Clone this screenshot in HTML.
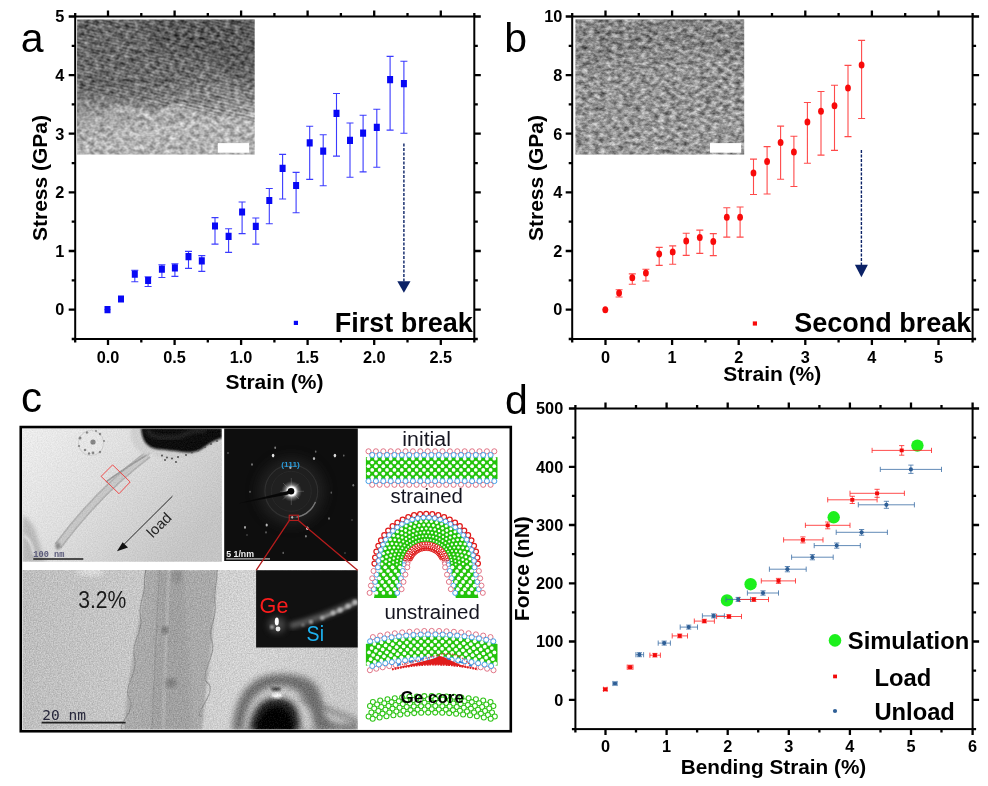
<!DOCTYPE html>
<html lang="en"><head><meta charset="utf-8"><title>Figure</title>
<style>html,body{margin:0;padding:0;background:#fff}svg{display:block}</style></head><body>
<svg width="988" height="786" viewBox="0 0 988 786">
<rect width="988" height="786" fill="#fff"/>
<defs>

<filter id="nzA" x="0" y="0" width="100%" height="100%" color-interpolation-filters="sRGB">
<feTurbulence type="fractalNoise" baseFrequency="0.2 0.24" numOctaves="2" seed="7" result="t"/>
<feColorMatrix in="t" type="matrix" values="1 0 0 0 0 1 0 0 0 0 1 0 0 0 0 0 0 0 0 1" result="g"/>
<feComposite in="SourceGraphic" in2="g" operator="arithmetic" k1="0" k2="1" k3="0.62" k4="-0.31"/>
</filter>
<filter id="nzB" x="0" y="0" width="100%" height="100%" color-interpolation-filters="sRGB">
<feTurbulence type="fractalNoise" baseFrequency="0.17 0.26" numOctaves="3" seed="21" result="t"/>
<feColorMatrix in="t" type="matrix" values="1 0 0 0 0 1 0 0 0 0 1 0 0 0 0 0 0 0 0 1" result="g"/>
<feComposite in="SourceGraphic" in2="g" operator="arithmetic" k1="0" k2="1" k3="0.8" k4="-0.4"/>
</filter>
<filter id="nzC" x="0" y="0" width="100%" height="100%" color-interpolation-filters="sRGB">
<feTurbulence type="fractalNoise" baseFrequency="0.75" numOctaves="2" seed="4" result="t"/>
<feColorMatrix in="t" type="matrix" values="1 0 0 0 0 1 0 0 0 0 1 0 0 0 0 0 0 0 0 1" result="g"/>
<feComposite in="SourceGraphic" in2="g" operator="arithmetic" k1="0" k2="1" k3="0.26" k4="-0.13"/>
</filter>
<filter id="nzD" x="0" y="0" width="100%" height="100%" color-interpolation-filters="sRGB">
<feTurbulence type="fractalNoise" baseFrequency="0.8" numOctaves="2" seed="9" result="t"/>
<feColorMatrix in="t" type="matrix" values="1 0 0 0 0 1 0 0 0 0 1 0 0 0 0 0 0 0 0 1" result="g"/>
<feComposite in="SourceGraphic" in2="g" operator="arithmetic" k1="0" k2="1" k3="0.12" k4="-0.06"/>
</filter>
<filter id="b1" x="-20%" y="-20%" width="140%" height="140%"><feGaussianBlur stdDeviation="1"/></filter>
<filter id="b2" x="-20%" y="-20%" width="140%" height="140%"><feGaussianBlur stdDeviation="2"/></filter>
<filter id="b3" x="-30%" y="-30%" width="160%" height="160%"><feGaussianBlur stdDeviation="3.2"/></filter>
<filter id="b6" x="-30%" y="-30%" width="160%" height="160%"><feGaussianBlur stdDeviation="6"/></filter>
<filter id="b05" x="-20%" y="-20%" width="140%" height="140%"><feGaussianBlur stdDeviation="0.6"/></filter>
<clipPath id="cA"><rect x="77.1" y="19.6" width="177.6" height="135"/></clipPath>
<clipPath id="cB"><rect x="575.4" y="19.6" width="168.8" height="135"/></clipPath>
<clipPath id="cC1"><rect x="22.6" y="428.4" width="199.3" height="133.3"/></clipPath>
<clipPath id="cC2"><rect x="224.2" y="428.4" width="133.6" height="132.6"/></clipPath>
<clipPath id="cC3"><rect x="22.6" y="570" width="335.2" height="159.4"/></clipPath>
<clipPath id="cC4"><rect x="256.1" y="570.2" width="101.6" height="77.3"/></clipPath>
<linearGradient id="gA" x1="0" y1="0" x2="0.25" y2="1">
<stop offset="0" stop-color="#6e6e6e"/><stop offset="0.52" stop-color="#747474"/><stop offset="0.76" stop-color="#969696"/><stop offset="0.9" stop-color="#b2b2b2"/><stop offset="1" stop-color="#b0b0b0"/></linearGradient>
<linearGradient id="gC1" x1="0" y1="0" x2="1" y2="0.6">
<stop offset="0" stop-color="#ededed"/><stop offset="0.45" stop-color="#dedede"/><stop offset="1" stop-color="#c4c4c4"/></linearGradient>
<linearGradient id="gC3" x1="0" y1="0" x2="1" y2="0">
<stop offset="0" stop-color="#bebebe"/><stop offset="0.3" stop-color="#c6c6c6"/><stop offset="0.68" stop-color="#d2d2d2"/><stop offset="1" stop-color="#c8c8c8"/></linearGradient>
<radialGradient id="gGlow"><stop offset="0" stop-color="#fff" stop-opacity="1"/><stop offset="0.42" stop-color="#fff" stop-opacity="1"/><stop offset="0.62" stop-color="#ccc" stop-opacity=".5"/><stop offset="1" stop-color="#888" stop-opacity="0"/></radialGradient>
<pattern id="fr" width="3.1" height="3.1" patternUnits="userSpaceOnUse" patternTransform="rotate(14)"><rect width="3.1" height="1.4" fill="#000" opacity=".16"/></pattern>
<pattern id="fr2" width="3.4" height="3.4" patternUnits="userSpaceOnUse" patternTransform="rotate(-70)"><rect width="3.4" height="1.5" fill="#fff" opacity=".05"/></pattern>

</defs>
<g id="panelA">
<g clip-path="url(#cA)"><g filter="url(#nzA)">
<rect x="77" y="19.5" width="178" height="135.4" fill="url(#gA)"/>
<path d="M150 19H255V100Q235 70 215 60T150 50z" fill="#565656" opacity=".55" filter="url(#b6)"/>
<path d="M77 106Q120 112 150 121T255 138V155H77z" fill="#b4b4b4" opacity=".6" filter="url(#b6)"/>
<path d="M110 112q15 -6 30 2t30 -4t25 6" stroke="#e2e2e2" stroke-width="5" fill="none" opacity=".55" filter="url(#b2)"/>
<path d="M118 128q20 10 45 2t50 -6" stroke="#d8d8d8" stroke-width="4" fill="none" opacity=".5" filter="url(#b2)"/>
<path d="M120 138h45" stroke="#909090" stroke-width="4" opacity=".5" filter="url(#b2)"/>
<path d="M77 19.5H255V122L77 90z" fill="url(#fr)"/>
</g></g>
<rect x="217.8" y="143.1" width="31.3" height="9.6" fill="#fff"/>
<rect x="75.2" y="16.5" width="399.1" height="322.5" fill="none" stroke="#000" stroke-width="2"/>
<path d="M108 16.5v-6M108 339v6M174.6 16.5v-6M174.6 339v6M241.1 16.5v-6M241.1 339v6M307.6 16.5v-6M307.6 339v6M374.2 16.5v-6M374.2 339v6M440.8 16.5v-6M440.8 339v6M75.2 16.5v-3.5M75.2 339v3.5M141.3 16.5v-3.5M141.3 339v3.5M207.8 16.5v-3.5M207.8 339v3.5M274.4 16.5v-3.5M274.4 339v3.5M340.9 16.5v-3.5M340.9 339v3.5M407.5 16.5v-3.5M407.5 339v3.5M474.3 16.5v-3.5M474.3 339v3.5M75.2 309.6h-6.5M474.3 309.6h6.5M75.2 251h-6.5M474.3 251h6.5M75.2 192.4h-6.5M474.3 192.4h6.5M75.2 133.7h-6.5M474.3 133.7h6.5M75.2 75.1h-6.5M474.3 75.1h6.5M75.2 16.5h-6.5M474.3 16.5h6.5M75.2 339h-3.5M474.3 339h3.5M75.2 280.3h-3.5M474.3 280.3h3.5M75.2 221.7h-3.5M474.3 221.7h3.5M75.2 163.1h-3.5M474.3 163.1h3.5M75.2 104.4h-3.5M474.3 104.4h3.5M75.2 45.8h-3.5M474.3 45.8h3.5" stroke="#000" stroke-width="2.3" fill="none"/>
<g font-family='"Liberation Sans", Arial, sans-serif' font-weight="bold" font-size="16.3px" fill="#000">
<text x="108" y="362.5" text-anchor="middle">0.0</text>
<text x="174.6" y="362.5" text-anchor="middle">0.5</text>
<text x="241.1" y="362.5" text-anchor="middle">1.0</text>
<text x="307.6" y="362.5" text-anchor="middle">1.5</text>
<text x="374.2" y="362.5" text-anchor="middle">2.0</text>
<text x="440.8" y="362.5" text-anchor="middle">2.5</text>
<text x="64.4" y="315.4" text-anchor="end">0</text>
<text x="64.4" y="256.8" text-anchor="end">1</text>
<text x="64.4" y="198.2" text-anchor="end">2</text>
<text x="64.4" y="139.5" text-anchor="end">3</text>
<text x="64.4" y="80.9" text-anchor="end">4</text>
<text x="64.4" y="22.3" text-anchor="end">5</text>
</g>
<text x="274.4" y="388.7" text-anchor="middle" font-family='"Liberation Sans", Arial, sans-serif' font-weight="bold" font-size="21px">Strain (%)</text>
<text transform="translate(46.8 178) rotate(-90)" text-anchor="middle" font-family='"Liberation Sans", Arial, sans-serif' font-weight="bold" font-size="21px">Stress (GPa)</text>
<path d="M134.8 270.2V281.7M131.3 270.2h7M131.3 281.7h7M148.1 276.7V286.5M144.6 276.7h7M144.6 286.5h7M161.9 264.7V277.5M158.4 264.7h7M158.4 277.5h7M174.9 263.7V276.4M171.4 263.7h7M171.4 276.4h7M188.5 251.4V268.4M185 251.4h7M185 268.4h7M201.8 255.6V271.4M198.3 255.6h7M198.3 271.4h7M215 217.6V244.1M211.5 217.6h7M211.5 244.1h7M228.6 228.8V252.4M225.1 228.8h7M225.1 252.4h7M242.1 202V233.6M238.6 202h7M238.6 233.6h7M255.8 218V244.1M252.3 218h7M252.3 244.1h7M269.3 188.5V223.8M265.8 188.5h7M265.8 223.8h7M282.6 154.4V199M279.1 154.4h7M279.1 199h7M296.1 172.4V212.8M292.6 172.4h7M292.6 212.8h7M309.7 126.3V179.4M306.2 126.3h7M306.2 179.4h7M323.2 134.8V185.7M319.7 134.8h7M319.7 185.7h7M336.5 93.5V156.1M333 93.5h7M333 156.1h7M350 123V177.2M346.5 123h7M346.5 177.2h7M363.1 115.3V171.9M359.6 115.3h7M359.6 171.9h7M376.8 109.3V167.2M373.3 109.3h7M373.3 167.2h7M390.1 56.4V130.1M386.6 56.4h7M386.6 130.1h7M403.9 61.2V133.3M400.4 61.2h7M400.4 133.3h7" stroke="#2020ff" stroke-width="1.1" fill="none" opacity="0.88"/>
<path d="M104.5 309.6h6M107.5 306.6v6M118 299h6M121 296v6" stroke="#2222ff" stroke-width="1" opacity=".8"/>
<path d="M104.5 306h6v7.2h-6zM118 295.4h6v7.2h-6zM131.8 270.6h6v7.2h-6zM145.1 276.9h6v7.2h-6zM158.9 265.6h6v7.2h-6zM171.9 264.3h6v7.2h-6zM185.5 253h6v7.2h-6zM198.8 257.3h6v7.2h-6zM212 222.4h6v7.2h-6zM225.6 232.7h6v7.2h-6zM239.1 208.4h6v7.2h-6zM252.8 222.7h6v7.2h-6zM266.3 196.9h6v7.2h-6zM279.6 164.8h6v7.2h-6zM293.1 181.9h6v7.2h-6zM306.7 139.3h6v7.2h-6zM320.2 147.5h6v7.2h-6zM333.5 109.7h6v7.2h-6zM347 136.8h6v7.2h-6zM360.1 129.5h6v7.2h-6zM373.8 123.7h6v7.2h-6zM387.1 76.1h6v7.2h-6zM400.9 80.1h6v7.2h-6z" fill="#0808f5"/>
<path d="M403.9 143.4V283" stroke="#0b2266" stroke-width="1.4" stroke-dasharray="3 1.5" fill="none"/>
<path d="M397.3 281.2h13.2l-6.6 11.6z" fill="#0b2266"/>
<rect x="293.8" y="320.8" width="4.2" height="4.2" fill="#0808f5"/>
<text x="334.8" y="332.4" font-family='"Liberation Sans", Arial, sans-serif' font-weight="bold" font-size="27px">First break</text>
<text x="20.8" y="52" font-family='"Liberation Sans", Arial, sans-serif' font-size="41px">a</text>
</g>
<g id="panelB">
<g clip-path="url(#cB)"><g filter="url(#nzB)">
<rect x="575" y="19.5" width="170" height="135.4" fill="#919191"/>
<path d="M575 19H745V60Q660 40 575 75z" fill="#757575" opacity=".5" filter="url(#b6)"/>
<path d="M575 120Q660 100 745 110V155H575z" fill="#9a9a9a" opacity=".5" filter="url(#b6)"/>
<rect x="575" y="19.5" width="170" height="135.4" fill="url(#fr2)"/>
</g></g>
<rect x="710" y="143.1" width="31.2" height="9.6" fill="#fff"/>
<rect x="572.2" y="16.5" width="400.4" height="322.5" fill="none" stroke="#000" stroke-width="2"/>
<path d="M605.5 16.5v-6M605.5 339v6M672.1 16.5v-6M672.1 339v6M738.7 16.5v-6M738.7 339v6M805.3 16.5v-6M805.3 339v6M871.9 16.5v-6M871.9 339v6M938.5 16.5v-6M938.5 339v6M572.2 16.5v-3.5M572.2 339v3.5M638.8 16.5v-3.5M638.8 339v3.5M705.4 16.5v-3.5M705.4 339v3.5M772 16.5v-3.5M772 339v3.5M838.6 16.5v-3.5M838.6 339v3.5M905.2 16.5v-3.5M905.2 339v3.5M972.6 16.5v-3.5M972.6 339v3.5M572.2 309.6h-6.5M972.6 309.6h6.5M572.2 251h-6.5M972.6 251h6.5M572.2 192.4h-6.5M972.6 192.4h6.5M572.2 133.7h-6.5M972.6 133.7h6.5M572.2 75.1h-6.5M972.6 75.1h6.5M572.2 16.5h-6.5M972.6 16.5h6.5M572.2 339h-3.5M972.6 339h3.5M572.2 280.3h-3.5M972.6 280.3h3.5M572.2 221.7h-3.5M972.6 221.7h3.5M572.2 163.1h-3.5M972.6 163.1h3.5M572.2 104.4h-3.5M972.6 104.4h3.5M572.2 45.8h-3.5M972.6 45.8h3.5" stroke="#000" stroke-width="2.3" fill="none"/>
<g font-family='"Liberation Sans", Arial, sans-serif' font-weight="bold" font-size="16.3px" fill="#000">
<text x="605.5" y="362.5" text-anchor="middle">0</text>
<text x="672.1" y="362.5" text-anchor="middle">1</text>
<text x="738.7" y="362.5" text-anchor="middle">2</text>
<text x="805.3" y="362.5" text-anchor="middle">3</text>
<text x="871.9" y="362.5" text-anchor="middle">4</text>
<text x="938.5" y="362.5" text-anchor="middle">5</text>
<text x="562.4" y="315.4" text-anchor="end">0</text>
<text x="562.4" y="256.8" text-anchor="end">2</text>
<text x="562.4" y="198.2" text-anchor="end">4</text>
<text x="562.4" y="139.5" text-anchor="end">6</text>
<text x="562.4" y="80.9" text-anchor="end">8</text>
<text x="562.4" y="22.3" text-anchor="end">10</text>
</g>
<text x="772.3" y="381.2" text-anchor="middle" font-family='"Liberation Sans", Arial, sans-serif' font-weight="bold" font-size="21px">Strain (%)</text>
<text transform="translate(543 178) rotate(-90)" text-anchor="middle" font-family='"Liberation Sans", Arial, sans-serif' font-weight="bold" font-size="21px">Stress (GPa)</text>
<path d="M619.1 289.7V297M615.6 289.7h7M615.6 297h7M632.3 273.9V284.2M628.8 273.9h7M628.8 284.2h7M645.9 269.2V281M642.4 269.2h7M642.4 281h7M659.2 247.4V265.4M655.7 247.4h7M655.7 265.4h7M672.7 245.9V264.2M669.2 245.9h7M669.2 264.2h7M686.2 233.3V255.4M682.7 233.3h7M682.7 255.4h7M699.8 230.1V253.4M696.3 230.1h7M696.3 253.4h7M713.3 233.6V255.6M709.8 233.6h7M709.8 255.6h7M726.8 207.8V237.1M723.3 207.8h7M723.3 237.1h7M740.1 207V237.1M736.6 207h7M736.6 237.1h7M753.5 159.1V194.5M750 159.1h7M750 194.5h7M767.1 146.6V194M763.6 146.6h7M763.6 194h7M780.6 126.1V179.2M777.1 126.1h7M777.1 179.2h7M793.9 136.3V186.5M790.4 136.3h7M790.4 186.5h7M807.4 102.5V163.2M803.9 102.5h7M803.9 163.2h7M821 91.5V155.1M817.5 91.5h7M817.5 155.1h7M834.5 85.2V150.4M831 85.2h7M831 150.4h7M848 65.4V136.6M844.5 65.4h7M844.5 136.6h7M861.6 40.4V118.5M858.1 40.4h7M858.1 118.5h7" stroke="#ff2222" stroke-width="1.1" fill="none" opacity="0.82"/>
<path d="M602.3 309.8h6M605.3 307v5.6" stroke="#ff2a2a" stroke-width="1" opacity=".8"/>
<ellipse cx="605.3" cy="309.8" rx="2.9" ry="3.5" fill="#f80a0a"/>
<ellipse cx="619.1" cy="293" rx="2.9" ry="3.5" fill="#f80a0a"/>
<ellipse cx="632.3" cy="277.7" rx="2.9" ry="3.5" fill="#f80a0a"/>
<ellipse cx="645.9" cy="272.9" rx="2.9" ry="3.5" fill="#f80a0a"/>
<ellipse cx="659.2" cy="253.9" rx="2.9" ry="3.5" fill="#f80a0a"/>
<ellipse cx="672.7" cy="251.9" rx="2.9" ry="3.5" fill="#f80a0a"/>
<ellipse cx="686.2" cy="241.1" rx="2.9" ry="3.5" fill="#f80a0a"/>
<ellipse cx="699.8" cy="237.6" rx="2.9" ry="3.5" fill="#f80a0a"/>
<ellipse cx="713.3" cy="241.4" rx="2.9" ry="3.5" fill="#f80a0a"/>
<ellipse cx="726.8" cy="217.3" rx="2.9" ry="3.5" fill="#f80a0a"/>
<ellipse cx="740.1" cy="217.3" rx="2.9" ry="3.5" fill="#f80a0a"/>
<ellipse cx="753.5" cy="172.9" rx="2.9" ry="3.5" fill="#f80a0a"/>
<ellipse cx="767.1" cy="161.4" rx="2.9" ry="3.5" fill="#f80a0a"/>
<ellipse cx="780.6" cy="142.6" rx="2.9" ry="3.5" fill="#f80a0a"/>
<ellipse cx="793.9" cy="151.9" rx="2.9" ry="3.5" fill="#f80a0a"/>
<ellipse cx="807.4" cy="122.1" rx="2.9" ry="3.5" fill="#f80a0a"/>
<ellipse cx="821" cy="111.3" rx="2.9" ry="3.5" fill="#f80a0a"/>
<ellipse cx="834.5" cy="105.8" rx="2.9" ry="3.5" fill="#f80a0a"/>
<ellipse cx="848" cy="88" rx="2.9" ry="3.5" fill="#f80a0a"/>
<ellipse cx="861.6" cy="64.9" rx="2.9" ry="3.5" fill="#f80a0a"/>
<path d="M861.4 149.9V266" stroke="#0b2266" stroke-width="1.4" stroke-dasharray="3 1.5" fill="none"/>
<path d="M854.9 264.7h13l-6.5 12.5z" fill="#0b2266"/>
<rect x="752.8" y="321.4" width="4.2" height="4.2" fill="#f80a0a"/>
<text x="794.2" y="332.4" font-family='"Liberation Sans", Arial, sans-serif' font-weight="bold" font-size="27px">Second break</text>
<text x="504.3" y="52" font-family='"Liberation Sans", Arial, sans-serif' font-size="41px">b</text>
</g>
<g id="panelD">
<rect x="575.4" y="408.5" width="397.2" height="320.6" fill="none" stroke="#000" stroke-width="2"/>
<path d="M605.5 408.5v-6M605.5 729.1v6M666.6 408.5v-6M666.6 729.1v6M727.7 408.5v-6M727.7 729.1v6M788.8 408.5v-6M788.8 729.1v6M849.9 408.5v-6M849.9 729.1v6M911 408.5v-6M911 729.1v6M972.6 408.5v-6M972.6 729.1v6M575.4 408.5v-3.5M575.4 729.1v3.5M636 408.5v-3.5M636 729.1v3.5M697.1 408.5v-3.5M697.1 729.1v3.5M758.2 408.5v-3.5M758.2 729.1v3.5M819.4 408.5v-3.5M819.4 729.1v3.5M880.5 408.5v-3.5M880.5 729.1v3.5M941.5 408.5v-3.5M941.5 729.1v3.5M575.4 699.8h-6.5M972.6 699.8h6.5M575.4 641.5h-6.5M972.6 641.5h6.5M575.4 583.3h-6.5M972.6 583.3h6.5M575.4 525h-6.5M972.6 525h6.5M575.4 466.8h-6.5M972.6 466.8h6.5M575.4 408.5h-6.5M972.6 408.5h6.5M575.4 729.1h-3.5M972.6 729.1h3.5M575.4 670.7h-3.5M972.6 670.7h3.5M575.4 612.4h-3.5M972.6 612.4h3.5M575.4 554.1h-3.5M972.6 554.1h3.5M575.4 495.9h-3.5M972.6 495.9h3.5M575.4 437.6h-3.5M972.6 437.6h3.5" stroke="#000" stroke-width="2.3" fill="none"/>
<g font-family='"Liberation Sans", Arial, sans-serif' font-weight="bold" font-size="16.3px" fill="#000">
<text x="605.5" y="752.4" text-anchor="middle">0</text>
<text x="666.6" y="752.4" text-anchor="middle">1</text>
<text x="727.7" y="752.4" text-anchor="middle">2</text>
<text x="788.8" y="752.4" text-anchor="middle">3</text>
<text x="849.9" y="752.4" text-anchor="middle">4</text>
<text x="911" y="752.4" text-anchor="middle">5</text>
<text x="972.6" y="752.4" text-anchor="middle">6</text>
<text x="563.2" y="705.6" text-anchor="end">0</text>
<text x="563.2" y="647.3" text-anchor="end">100</text>
<text x="563.2" y="589.1" text-anchor="end">200</text>
<text x="563.2" y="530.8" text-anchor="end">300</text>
<text x="563.2" y="472.6" text-anchor="end">400</text>
<text x="563.2" y="414.3" text-anchor="end">500</text>
</g>
<text x="773.5" y="774" text-anchor="middle" font-family='"Liberation Sans", Arial, sans-serif' font-weight="bold" font-size="20.75px">Bending Strain (%)</text>
<text transform="translate(529.2 568.7) rotate(-90)" text-anchor="middle" font-family='"Liberation Sans", Arial, sans-serif' font-weight="bold" font-size="21px">Force (nN)</text>
<circle cx="727" cy="600.4" r="6.2" fill="#1cf01c"/>
<circle cx="750.6" cy="584.2" r="6.2" fill="#1cf01c"/>
<circle cx="833.7" cy="517.3" r="6.2" fill="#1cf01c"/>
<circle cx="917.4" cy="445.6" r="6.2" fill="#1cf01c"/>
<path d="M613 683.5H617M613 680.9v5.2M617 680.9v5.2M615 682V685M612.4 682h5.2M612.4 685h5.2M635.9 654.7H643.6M635.9 652.1v5.2M643.6 652.1v5.2M639.4 652.7V656.7M636.8 652.7h5.2M636.8 656.7h5.2M658.2 643.1H670.4M658.2 640.5v5.2M670.4 640.5v5.2M664.2 641.1V645.1M661.6 641.1h5.2M661.6 645.1h5.2M680.2 627.1H697.5M680.2 624.5v5.2M697.5 624.5v5.2M688.7 625.1V629.1M686.1 625.1h5.2M686.1 629.1h5.2M702.4 615.9H724.4M702.4 613.3v5.2M724.4 613.3v5.2M713.6 613.9V617.9M711 613.9h5.2M711 617.9h5.2M726 599.4H750.5M726 596.8v5.2M750.5 596.8v5.2M738.2 597.4V601.4M735.6 597.4h5.2M735.6 601.4h5.2M747.4 593H778.5M747.4 590.4v5.2M778.5 590.4v5.2M763 590.8V595.2M760.4 590.8h5.2M760.4 595.2h5.2M769.4 569.2H806.2M769.4 566.6v5.2M806.2 566.6v5.2M787.4 566.5V571.8M784.8 566.5h5.2M784.8 571.8h5.2M791.6 557.2H833.2M791.6 554.6v5.2M833.2 554.6v5.2M812.4 554.6V559.8M809.8 554.6h5.2M809.8 559.8h5.2M814.2 545.6H860.3M814.2 543v5.2M860.3 543v5.2M836.7 543V548.2M834.1 543h5.2M834.1 548.2h5.2M836.2 532.3H887.4M836.2 529.7v5.2M887.4 529.7v5.2M861.6 529.5V535.2M859 529.5h5.2M859 535.2h5.2M858.3 504.8H914.4M858.3 502.2v5.2M914.4 502.2v5.2M886.4 501.3V508.3M883.8 501.3h5.2M883.8 508.3h5.2M880.3 469.4H941.5M880.3 466.8v5.2M941.5 466.8v5.2M910.9 465.1V473.4M908.3 465.1h5.2M908.3 473.4h5.2" stroke="#3b6ea5" stroke-width="1" fill="none" opacity="0.8"/>
<path d="M603.5 689.3H607.1M603.5 686.7v5.2M607.1 686.7v5.2M605.3 688V690.6M602.7 688h5.2M602.7 690.6h5.2M627.2 667.2H633M627.2 664.6v5.2M633 664.6v5.2M630.1 665.2V669.2M627.5 665.2h5.2M627.5 669.2h5.2M649.9 655.2H660.4M649.9 652.6v5.2M660.4 652.6v5.2M654.9 653.4V657M652.3 653.4h5.2M652.3 657h5.2M672.2 635.9H687.5M672.2 633.3v5.2M687.5 633.3v5.2M679.7 634V637.8M677.1 634h5.2M677.1 637.8h5.2M694.3 621.1H714.4M694.3 618.5v5.2M714.4 618.5v5.2M704.3 619.3V622.9M701.7 619.3h5.2M701.7 622.9h5.2M716.6 616.5H741.5M716.6 613.9v5.2M741.5 613.9v5.2M728.9 614.8V618.2M726.3 614.8h5.2M726.3 618.2h5.2M739.5 599.5H768.5M739.5 596.9v5.2M768.5 596.9v5.2M753.8 597.7V601.3M751.2 597.7h5.2M751.2 601.3h5.2M761.3 580.9H795.5M761.3 578.3v5.2M795.5 578.3v5.2M778.5 578.4V583.4M775.9 578.4h5.2M775.9 583.4h5.2M783.6 539.9H823M783.6 537.3v5.2M823 537.3v5.2M802.9 536.9V542.9M800.3 536.9h5.2M800.3 542.9h5.2M805.4 525.3H850M805.4 522.7v5.2M850 522.7v5.2M827.7 522V528.8M825.1 522h5.2M825.1 528.8h5.2M827.7 499.8H877.1M827.7 497.2v5.2M877.1 497.2v5.2M852.3 496.3V503.5M849.7 496.3h5.2M849.7 503.5h5.2M850 493.3H904.4M850 490.7v5.2M904.4 490.7v5.2M877.1 489.3V497.3M874.5 489.3h5.2M874.5 497.3h5.2M872.1 450.4H931.5M872.1 447.8v5.2M931.5 447.8v5.2M901.7 445.6V455.2M899.1 445.6h5.2M899.1 455.2h5.2" stroke="#ff2020" stroke-width="1" fill="none" opacity="0.8"/>
<circle cx="615" cy="683.5" r="2.1" fill="#2f5f96"/>
<circle cx="639.4" cy="654.7" r="2.1" fill="#2f5f96"/>
<circle cx="664.2" cy="643.1" r="2.1" fill="#2f5f96"/>
<circle cx="688.7" cy="627.1" r="2.1" fill="#2f5f96"/>
<circle cx="713.6" cy="615.9" r="2.1" fill="#2f5f96"/>
<circle cx="738.2" cy="599.4" r="2.1" fill="#2f5f96"/>
<circle cx="763" cy="593" r="2.1" fill="#2f5f96"/>
<circle cx="787.4" cy="569.2" r="2.1" fill="#2f5f96"/>
<circle cx="812.4" cy="557.2" r="2.1" fill="#2f5f96"/>
<circle cx="836.7" cy="545.6" r="2.1" fill="#2f5f96"/>
<circle cx="861.6" cy="532.3" r="2.1" fill="#2f5f96"/>
<circle cx="886.4" cy="504.8" r="2.1" fill="#2f5f96"/>
<circle cx="910.9" cy="469.4" r="2.1" fill="#2f5f96"/>
<path d="M603.3 687.4h4v3.8h-4zM628.1 665.3h4v3.8h-4zM652.9 653.3h4v3.8h-4zM677.7 634h4v3.8h-4zM702.3 619.2h4v3.8h-4zM726.9 614.6h4v3.8h-4zM751.8 597.6h4v3.8h-4zM776.5 579h4v3.8h-4zM800.9 538h4v3.8h-4zM825.7 523.4h4v3.8h-4zM850.3 497.9h4v3.8h-4zM875.1 491.4h4v3.8h-4zM899.7 448.5h4v3.8h-4z" fill="#f20a0a"/>
<circle cx="835" cy="640.4" r="6.3" fill="#1cf01c"/>
<rect x="833.1" y="674.6" width="3.9" height="3.7" fill="#f20a0a"/>
<circle cx="835" cy="711" r="2.1" fill="#2f5f96"/>
<g font-family='"Liberation Sans", Arial, sans-serif' font-weight="bold" font-size="23.75px"><text x="847.8" y="648.7">Simulation</text><text x="874.6" y="685.8">Load</text><text x="874.4" y="719.9">Unload</text></g>
<text x="505" y="413.6" font-family='"Liberation Sans", Arial, sans-serif' font-size="41px">d</text>
</g>
<g id="panelC">
<g clip-path="url(#cC1)"><g filter="url(#nzD)">
<rect x="22" y="428" width="200.5" height="134" fill="url(#gC1)"/>
<path d="M22 515q10 5 14 18t10 30H22z" fill="#a8a8a8" opacity=".7" filter="url(#b2)"/>
<path d="M24 535q8 6 10 20" stroke="#e8e8e8" stroke-width="2.5" fill="none" opacity=".8" filter="url(#b1)"/>
<circle cx="91" cy="443" r="12.5" fill="#e6e6e6" stroke="#cfcfcf" stroke-width="1.2" opacity=".9" filter="url(#b05)"/>
<circle cx="93" cy="442" r="2.6" fill="#858585" filter="url(#b05)"/>
<circle cx="80" cy="438" r="1.5" fill="#858585" filter="url(#b05)"/>
<circle cx="87" cy="432.5" r="1.2" fill="#858585" filter="url(#b05)"/>
<circle cx="100" cy="434" r="1.2" fill="#858585" filter="url(#b05)"/>
<circle cx="85" cy="450" r="1.3" fill="#858585" filter="url(#b05)"/>
<circle cx="93" cy="453" r="1.4" fill="#858585" filter="url(#b05)"/>
<circle cx="100" cy="452" r="1.2" fill="#858585" filter="url(#b05)"/>
<circle cx="79" cy="446" r="1.1" fill="#858585" filter="url(#b05)"/>
<circle cx="104" cy="441" r="1.0" fill="#858585" filter="url(#b05)"/>
<circle cx="96" cy="431" r="1.0" fill="#858585" filter="url(#b05)"/>
<circle cx="89" cy="453.5" r="1.2" fill="#858585" filter="url(#b05)"/>
<path d="M148 454.5Q98 492 58 546" stroke="#b0b0b0" stroke-width="8.4" fill="none" filter="url(#b05)"/>
<path d="M148 454.5Q98 492 58 546" stroke="#c6c6c6" stroke-width="5" fill="none" filter="url(#b05)"/>
<path d="M150 453Q122 470 106 482" stroke="#9c9c9c" stroke-width="1.6" fill="none" filter="url(#b05)"/>
<ellipse cx="58" cy="546" rx="2.6" ry="3.6" fill="#8c8c8c" filter="url(#b1)"/>
<path d="M131 428q-2 14 7 22t14 3q8 7 24 6t22 -3t24 -12V428z" fill="#cfcfcf" filter="url(#b1)"/>
<path d="M141 428q1 12 6 16.5t13 5t22 2.5t22 -4.5t18 -9.5V428z" fill="#0c0c0c" filter="url(#b1)"/>
<path d="M146 430q6 8 20 8t20 -4t20 -4" stroke="#333" stroke-width="3" fill="none" filter="url(#b2)"/>
<circle cx="162" cy="455.5" r="1.1" fill="#5a5a5a" filter="url(#b05)"/>
<circle cx="167" cy="457.5" r="1.1" fill="#5a5a5a" filter="url(#b05)"/>
<circle cx="172" cy="458.5" r="1.1" fill="#5a5a5a" filter="url(#b05)"/>
<circle cx="178" cy="457" r="1.1" fill="#5a5a5a" filter="url(#b05)"/>
<circle cx="186" cy="455" r="1.1" fill="#5a5a5a" filter="url(#b05)"/>
<circle cx="192" cy="452.5" r="1.1" fill="#5a5a5a" filter="url(#b05)"/>
<circle cx="198" cy="450.5" r="1.1" fill="#5a5a5a" filter="url(#b05)"/>
<circle cx="205" cy="447" r="1.1" fill="#5a5a5a" filter="url(#b05)"/>
<circle cx="211" cy="444" r="1.1" fill="#5a5a5a" filter="url(#b05)"/>
<circle cx="217" cy="441" r="1.1" fill="#5a5a5a" filter="url(#b05)"/>
<circle cx="165" cy="460" r="1.1" fill="#5a5a5a" filter="url(#b05)"/>
<circle cx="176" cy="462" r="1.1" fill="#5a5a5a" filter="url(#b05)"/>
</g></g>
<path d="M112.6 464.9L130.2 482L119 493.7L101.1 476.4z" fill="none" stroke="#ee4a4a" stroke-width="1"/>
<path d="M172.4 496.2L124 544.4" stroke="#222" stroke-width="1"/>
<path d="M117 551.2L122.6 542.2L128 547.6z" fill="#111"/>
<text transform="translate(152.8 538.4) rotate(-45)" font-family='"Liberation Sans", Arial, sans-serif' font-size="14.8px" fill="#222">load</text>
<text x="33.3" y="556.6" font-family='"Liberation Mono", monospace' font-weight="bold" font-size="8.2px" fill="#5a5a7a" textLength="31" lengthAdjust="spacingAndGlyphs">100 nm</text>
<path d="M33.3 559H83.3" stroke="#1c1c1c" stroke-width="1.7"/>
<g clip-path="url(#cC2)">
<rect x="224" y="428" width="134" height="133.5" fill="#0e0e0e"/>
<circle cx="291.3" cy="491.3" r="34" fill="#303030" opacity=".5" filter="url(#b6)"/>
<circle cx="291.3" cy="491.3" r="26.4" fill="none" stroke="#444" stroke-width="1.2" opacity=".5" filter="url(#b05)"/>
<circle cx="291.3" cy="491.3" r="20" fill="none" stroke="#333" stroke-width="1" opacity=".5" filter="url(#b05)"/>
<path d="M296.5 517.2A26.4 26.4 0 0 0 315.5 502" fill="none" stroke="#8a8a8a" stroke-width="1.5" opacity=".8" filter="url(#b05)"/>
<circle cx="291.6" cy="491.3" r="10.5" fill="url(#gGlow)"/>
<path d="M291.3 478v27M280 491.3h24M283 483l16 16M283 499.5l16 -16" stroke="#ddd" stroke-width=".8" opacity=".25" filter="url(#b05)"/>
<path d="M238 503.6L287 491.2L291 488.6L288.5 494.6z" fill="#070707"/>
<circle cx="291" cy="491.2" r="3.3" fill="#050505"/>
<ellipse cx="273.1" cy="455.6" rx="1.3" ry="1.8" fill="#f0f0f0" opacity="0.95" filter="url(#b05)"/>
<ellipse cx="275.2" cy="447.8" rx="0.9" ry="1.2" fill="#f0f0f0" opacity="0.5" filter="url(#b05)"/>
<ellipse cx="290.4" cy="467.4" rx="1.1" ry="1.5" fill="#f0f0f0" opacity="0.7" filter="url(#b05)"/>
<ellipse cx="314" cy="458.5" rx="1.1" ry="1.5" fill="#f0f0f0" opacity="0.75" filter="url(#b05)"/>
<ellipse cx="315.7" cy="451.7" rx="0.8" ry="1.1" fill="#f0f0f0" opacity="0.4" filter="url(#b05)"/>
<ellipse cx="334.9" cy="455.6" rx="1.3" ry="1.8" fill="#f0f0f0" opacity="0.9" filter="url(#b05)"/>
<ellipse cx="343.8" cy="455.6" rx="0.8" ry="1.1" fill="#f0f0f0" opacity="0.4" filter="url(#b05)"/>
<ellipse cx="252" cy="464.5" rx="0.9" ry="1.2" fill="#f0f0f0" opacity="0.45" filter="url(#b05)"/>
<ellipse cx="228" cy="453" rx="0.8" ry="1.1" fill="#f0f0f0" opacity="0.35" filter="url(#b05)"/>
<ellipse cx="353.3" cy="485.2" rx="0.9" ry="1.2" fill="#f0f0f0" opacity="0.45" filter="url(#b05)"/>
<ellipse cx="331.3" cy="492.7" rx="0.8" ry="1.1" fill="#f0f0f0" opacity="0.35" filter="url(#b05)"/>
<ellipse cx="250" cy="491.8" rx="0.8" ry="1.1" fill="#f0f0f0" opacity="0.4" filter="url(#b05)"/>
<ellipse cx="245" cy="527.4" rx="1" ry="1.4" fill="#f0f0f0" opacity="0.7" filter="url(#b05)"/>
<ellipse cx="266.7" cy="525.1" rx="1.1" ry="1.5" fill="#f0f0f0" opacity="0.75" filter="url(#b05)"/>
<ellipse cx="266" cy="532.4" rx="0.8" ry="1.1" fill="#f0f0f0" opacity="0.4" filter="url(#b05)"/>
<ellipse cx="307.3" cy="528.3" rx="1.3" ry="1.8" fill="#f0f0f0" opacity="0.95" filter="url(#b05)"/>
<ellipse cx="305.9" cy="536.3" rx="0.9" ry="1.2" fill="#f0f0f0" opacity="0.5" filter="url(#b05)"/>
<ellipse cx="329" cy="518.5" rx="0.9" ry="1.2" fill="#f0f0f0" opacity="0.45" filter="url(#b05)"/>
<ellipse cx="292.2" cy="517.3" rx="1" ry="1.4" fill="#f0f0f0" opacity="0.7" filter="url(#b05)"/>
<ellipse cx="283.2" cy="552.9" rx="0.8" ry="1.1" fill="#f0f0f0" opacity="0.4" filter="url(#b05)"/>
<ellipse cx="345" cy="553" rx="0.7" ry="0.9" fill="#f0f0f0" opacity="0.3" filter="url(#b05)"/>
<ellipse cx="247" cy="535" rx="0.7" ry="0.9" fill="#f0f0f0" opacity="0.3" filter="url(#b05)"/>
<ellipse cx="352" cy="520" rx="0.7" ry="0.9" fill="#f0f0f0" opacity="0.3" filter="url(#b05)"/>
</g>
<text x="281.3" y="466.6" font-family='"Liberation Sans", Arial, sans-serif' font-weight="bold" font-size="7.6px" fill="#2a9ad8" textLength="18.6" lengthAdjust="spacingAndGlyphs">(111)</text>
<text x="226.2" y="556.6" font-family='"Liberation Sans", Arial, sans-serif' font-weight="bold" font-size="8.3px" fill="#f2f2f2" textLength="27.8" lengthAdjust="spacingAndGlyphs">5 1/nm</text>
<path d="M226.2 558.8H270" stroke="#bbb" stroke-width="1.2"/>
<g clip-path="url(#cC3)"><g filter="url(#nzC)">
<rect x="22" y="569.5" width="336.5" height="160.5" fill="url(#gC3)"/>
<path d="M146 569.5H217L215 600L212 640L206 690L202 730H123L128 690L134 650L141 610z" fill="#a9a9a9" filter="url(#b1)"/>
<path d="M159 569.5H184L186 620L190 680L192 730H151L154 680L157 620z" fill="#9e9e9e" opacity=".75" filter="url(#b2)"/>
<path d="M169 569.5L166 640L163 730" stroke="#c4c4c4" stroke-width="2" fill="none" opacity=".7" filter="url(#b1)"/>
<ellipse cx="165" cy="630" rx="3.6" ry="4" fill="#7e7e7e" filter="url(#b1)"/>
<ellipse cx="171" cy="683" rx="6" ry="4.5" fill="#7c7c7c" filter="url(#b2)"/>
<ellipse cx="177" cy="577" rx="5" ry="7" fill="#8e8e8e" filter="url(#b2)"/>
<ellipse cx="90" cy="572" rx="14" ry="4" fill="#e0e0e0" opacity=".8" filter="url(#b2)"/>
<path d="M232 731Q236 676 278 674T322 702T358 722V731z" fill="#6e6e6e" filter="url(#b3)"/>
<path d="M243 731Q247 688 278 686T315 731z" fill="#c9c9c9" filter="url(#b3)"/>
<path d="M249 731Q253 698 277 698T300 731z" fill="#1c1c1c" filter="url(#b3)"/>
<path d="M256 731Q262 708 276 708T294 731z" fill="#000" filter="url(#b2)"/>
<ellipse cx="277" cy="695.5" rx="5.5" ry="2.6" fill="#f4f4f4" filter="url(#b1)"/>
<ellipse cx="276" cy="689" rx="5" ry="2" fill="#444" filter="url(#b1)"/>
<path d="M300 698Q330 710 358 722" stroke="#6a6a6a" stroke-width="5" fill="none" opacity=".8" filter="url(#b3)"/>
<path d="M146 569.5q-2 8 -1.5 14t-2.5 16t-1.5 18t-3.5 20t-2.5 20t-3.5 22t-1.5 20t-3.5 18t-3 12" stroke="#8c8c8c" stroke-width="1.1" fill="none" opacity=".85" filter="url(#b05)"/>
<path d="M217 569.5q0 10 -1.5 18t-0.5 16t-2.5 20t-0.5 18t-3.5 22t-0.5 20t-3.5 20t-2 12" stroke="#8c8c8c" stroke-width="1.1" fill="none" opacity=".85" filter="url(#b05)"/>
<path d="M159.5 569.5L156 640L152 730" stroke="#8a8a8a" stroke-width="1.2" fill="none" opacity=".6" filter="url(#b05)"/>
</g></g>
<text x="78.2" y="607.6" font-family='"Liberation Sans", Arial, sans-serif' font-size="24.6px" fill="#1a1a1a" textLength="48.2" lengthAdjust="spacingAndGlyphs">3.2%</text>
<text x="42.2" y="719.8" font-family='"DejaVu Sans Mono","Liberation Mono",monospace' font-size="14.2px" fill="#26263a" textLength="43.8" lengthAdjust="spacingAndGlyphs">20 nm</text>
<path d="M41.6 722.6H125.6" stroke="#222" stroke-width="1.6"/>
<g clip-path="url(#cC4)">
<rect x="256" y="570" width="102" height="78" fill="#111"/>
<path d="M290 626Q320 619 358 601" stroke="#777" stroke-width="6.5" fill="none" opacity=".7" filter="url(#b2)"/>
<path d="M322 618Q340 611 358 602" stroke="#aaa" stroke-width="3" fill="none" opacity=".6" filter="url(#b1)"/>
<circle cx="311" cy="622" r="2" fill="#c8c8c8" opacity="0.7" filter="url(#b1)"/>
<circle cx="322" cy="618" r="2.2" fill="#c8c8c8" opacity="0.7" filter="url(#b1)"/>
<circle cx="333" cy="613" r="2.4" fill="#c8c8c8" opacity="0.75" filter="url(#b1)"/>
<circle cx="340" cy="610" r="2.6" fill="#c8c8c8" opacity="0.8" filter="url(#b1)"/>
<circle cx="348" cy="606" r="2.6" fill="#c8c8c8" opacity="0.75" filter="url(#b1)"/>
<circle cx="355" cy="602" r="2.6" fill="#c8c8c8" opacity="0.8" filter="url(#b1)"/>
<circle cx="303" cy="625" r="1.6" fill="#c8c8c8" opacity="0.5" filter="url(#b1)"/>
<ellipse cx="277" cy="625" rx="9" ry="8" fill="#666" opacity=".6" filter="url(#b3)"/>
<ellipse cx="276.8" cy="621.5" rx="2" ry="4" fill="#fff" filter="url(#b05)"/>
<ellipse cx="278" cy="629" rx="2.4" ry="2.4" fill="#e8e8e8" filter="url(#b05)"/>
<ellipse cx="272" cy="627" rx="2" ry="2" fill="#aaa" filter="url(#b1)"/>
</g>
<text x="259.6" y="613.3" font-family='"Liberation Sans", Arial, sans-serif' font-size="21.5px" fill="#fa1c1c" textLength="28.8" lengthAdjust="spacingAndGlyphs">Ge</text>
<text x="306.6" y="640.6" font-family='"Liberation Sans", Arial, sans-serif' font-size="21.5px" fill="#1eb0ee" textLength="17.4" lengthAdjust="spacingAndGlyphs">Si</text>
<rect x="289.2" y="515.2" width="9.2" height="5.2" fill="none" stroke="#c81e1e" stroke-width="1"/>
<path d="M289.4 520.4L256.3 570.2M298.4 520.4L357.6 570.2" stroke="#b41c1c" stroke-width="1.3" fill="none"/>
<style>.hg circle{fill:#fff}.hb circle{fill:#fff;stroke:#3a9be6;stroke-width:.95px}.hr circle{fill:#fff;stroke:#d9536a;stroke-width:.8px}.hR circle{fill:none;stroke:#e01818;stroke-width:1.15px}.ho circle{fill:#fff;stroke:#2fc417;stroke-width:1.05px}</style>
<rect x="365.9" y="457.2" width="131.60000000000002" height="21.8" fill="#22c30a"/>
<g class="hr"><circle cx="368.5" cy="451.3" r="2.55"/><circle cx="375.9" cy="451.3" r="2.55"/><circle cx="383.3" cy="451.3" r="2.55"/><circle cx="390.7" cy="451.3" r="2.55"/><circle cx="398.1" cy="451.3" r="2.55"/><circle cx="405.5" cy="451.3" r="2.55"/><circle cx="412.9" cy="451.3" r="2.55"/><circle cx="420.3" cy="451.3" r="2.55"/><circle cx="427.7" cy="451.3" r="2.55"/><circle cx="435.1" cy="451.3" r="2.55"/><circle cx="442.5" cy="451.3" r="2.55"/><circle cx="449.9" cy="451.3" r="2.55"/><circle cx="457.3" cy="451.3" r="2.55"/><circle cx="464.7" cy="451.3" r="2.55"/><circle cx="472.1" cy="451.3" r="2.55"/><circle cx="479.5" cy="451.3" r="2.55"/><circle cx="486.9" cy="451.3" r="2.55"/><circle cx="494.3" cy="451.3" r="2.55"/><circle cx="372.2" cy="484.8" r="2.55"/><circle cx="379.6" cy="484.8" r="2.55"/><circle cx="387" cy="484.8" r="2.55"/><circle cx="394.4" cy="484.8" r="2.55"/><circle cx="401.8" cy="484.8" r="2.55"/><circle cx="409.2" cy="484.8" r="2.55"/><circle cx="416.6" cy="484.8" r="2.55"/><circle cx="424" cy="484.8" r="2.55"/><circle cx="431.4" cy="484.8" r="2.55"/><circle cx="438.8" cy="484.8" r="2.55"/><circle cx="446.2" cy="484.8" r="2.55"/><circle cx="453.6" cy="484.8" r="2.55"/><circle cx="461" cy="484.8" r="2.55"/><circle cx="468.4" cy="484.8" r="2.55"/><circle cx="475.8" cy="484.8" r="2.55"/><circle cx="483.2" cy="484.8" r="2.55"/><circle cx="490.6" cy="484.8" r="2.55"/></g>
<g class="hb"><circle cx="372.2" cy="455" r="2.55"/><circle cx="379.6" cy="455" r="2.55"/><circle cx="387" cy="455" r="2.55"/><circle cx="394.4" cy="455" r="2.55"/><circle cx="401.8" cy="455" r="2.55"/><circle cx="409.2" cy="455" r="2.55"/><circle cx="416.6" cy="455" r="2.55"/><circle cx="424" cy="455" r="2.55"/><circle cx="431.4" cy="455" r="2.55"/><circle cx="438.8" cy="455" r="2.55"/><circle cx="446.2" cy="455" r="2.55"/><circle cx="453.6" cy="455" r="2.55"/><circle cx="461" cy="455" r="2.55"/><circle cx="468.4" cy="455" r="2.55"/><circle cx="475.8" cy="455" r="2.55"/><circle cx="483.2" cy="455" r="2.55"/><circle cx="490.6" cy="455" r="2.55"/><circle cx="368.5" cy="481.1" r="2.55"/><circle cx="375.9" cy="481.1" r="2.55"/><circle cx="383.3" cy="481.1" r="2.55"/><circle cx="390.7" cy="481.1" r="2.55"/><circle cx="398.1" cy="481.1" r="2.55"/><circle cx="405.5" cy="481.1" r="2.55"/><circle cx="412.9" cy="481.1" r="2.55"/><circle cx="420.3" cy="481.1" r="2.55"/><circle cx="427.7" cy="481.1" r="2.55"/><circle cx="435.1" cy="481.1" r="2.55"/><circle cx="442.5" cy="481.1" r="2.55"/><circle cx="449.9" cy="481.1" r="2.55"/><circle cx="457.3" cy="481.1" r="2.55"/><circle cx="464.7" cy="481.1" r="2.55"/><circle cx="472.1" cy="481.1" r="2.55"/><circle cx="479.5" cy="481.1" r="2.55"/><circle cx="486.9" cy="481.1" r="2.55"/><circle cx="494.3" cy="481.1" r="2.55"/></g>
<g class="hg"><circle cx="368.5" cy="458.7" r="1.85"/><circle cx="375.9" cy="458.7" r="1.85"/><circle cx="383.3" cy="458.7" r="1.85"/><circle cx="390.7" cy="458.7" r="1.85"/><circle cx="398.1" cy="458.7" r="1.85"/><circle cx="405.5" cy="458.7" r="1.85"/><circle cx="412.9" cy="458.7" r="1.85"/><circle cx="420.3" cy="458.7" r="1.85"/><circle cx="427.7" cy="458.7" r="1.85"/><circle cx="435.1" cy="458.7" r="1.85"/><circle cx="442.5" cy="458.7" r="1.85"/><circle cx="449.9" cy="458.7" r="1.85"/><circle cx="457.3" cy="458.7" r="1.85"/><circle cx="464.7" cy="458.7" r="1.85"/><circle cx="472.1" cy="458.7" r="1.85"/><circle cx="479.5" cy="458.7" r="1.85"/><circle cx="486.9" cy="458.7" r="1.85"/><circle cx="494.3" cy="458.7" r="1.85"/><circle cx="372.2" cy="462.5" r="1.85"/><circle cx="379.6" cy="462.5" r="1.85"/><circle cx="387" cy="462.5" r="1.85"/><circle cx="394.4" cy="462.5" r="1.85"/><circle cx="401.8" cy="462.5" r="1.85"/><circle cx="409.2" cy="462.5" r="1.85"/><circle cx="416.6" cy="462.5" r="1.85"/><circle cx="424" cy="462.5" r="1.85"/><circle cx="431.4" cy="462.5" r="1.85"/><circle cx="438.8" cy="462.5" r="1.85"/><circle cx="446.2" cy="462.5" r="1.85"/><circle cx="453.6" cy="462.5" r="1.85"/><circle cx="461" cy="462.5" r="1.85"/><circle cx="468.4" cy="462.5" r="1.85"/><circle cx="475.8" cy="462.5" r="1.85"/><circle cx="483.2" cy="462.5" r="1.85"/><circle cx="490.6" cy="462.5" r="1.85"/><circle cx="368.5" cy="466.2" r="1.85"/><circle cx="375.9" cy="466.2" r="1.85"/><circle cx="383.3" cy="466.2" r="1.85"/><circle cx="390.7" cy="466.2" r="1.85"/><circle cx="398.1" cy="466.2" r="1.85"/><circle cx="405.5" cy="466.2" r="1.85"/><circle cx="412.9" cy="466.2" r="1.85"/><circle cx="420.3" cy="466.2" r="1.85"/><circle cx="427.7" cy="466.2" r="1.85"/><circle cx="435.1" cy="466.2" r="1.85"/><circle cx="442.5" cy="466.2" r="1.85"/><circle cx="449.9" cy="466.2" r="1.85"/><circle cx="457.3" cy="466.2" r="1.85"/><circle cx="464.7" cy="466.2" r="1.85"/><circle cx="472.1" cy="466.2" r="1.85"/><circle cx="479.5" cy="466.2" r="1.85"/><circle cx="486.9" cy="466.2" r="1.85"/><circle cx="494.3" cy="466.2" r="1.85"/><circle cx="372.2" cy="469.9" r="1.85"/><circle cx="379.6" cy="469.9" r="1.85"/><circle cx="387" cy="469.9" r="1.85"/><circle cx="394.4" cy="469.9" r="1.85"/><circle cx="401.8" cy="469.9" r="1.85"/><circle cx="409.2" cy="469.9" r="1.85"/><circle cx="416.6" cy="469.9" r="1.85"/><circle cx="424" cy="469.9" r="1.85"/><circle cx="431.4" cy="469.9" r="1.85"/><circle cx="438.8" cy="469.9" r="1.85"/><circle cx="446.2" cy="469.9" r="1.85"/><circle cx="453.6" cy="469.9" r="1.85"/><circle cx="461" cy="469.9" r="1.85"/><circle cx="468.4" cy="469.9" r="1.85"/><circle cx="475.8" cy="469.9" r="1.85"/><circle cx="483.2" cy="469.9" r="1.85"/><circle cx="490.6" cy="469.9" r="1.85"/><circle cx="368.5" cy="473.6" r="1.85"/><circle cx="375.9" cy="473.6" r="1.85"/><circle cx="383.3" cy="473.6" r="1.85"/><circle cx="390.7" cy="473.6" r="1.85"/><circle cx="398.1" cy="473.6" r="1.85"/><circle cx="405.5" cy="473.6" r="1.85"/><circle cx="412.9" cy="473.6" r="1.85"/><circle cx="420.3" cy="473.6" r="1.85"/><circle cx="427.7" cy="473.6" r="1.85"/><circle cx="435.1" cy="473.6" r="1.85"/><circle cx="442.5" cy="473.6" r="1.85"/><circle cx="449.9" cy="473.6" r="1.85"/><circle cx="457.3" cy="473.6" r="1.85"/><circle cx="464.7" cy="473.6" r="1.85"/><circle cx="472.1" cy="473.6" r="1.85"/><circle cx="479.5" cy="473.6" r="1.85"/><circle cx="486.9" cy="473.6" r="1.85"/><circle cx="494.3" cy="473.6" r="1.85"/><circle cx="372.2" cy="477.4" r="1.85"/><circle cx="379.6" cy="477.4" r="1.85"/><circle cx="387" cy="477.4" r="1.85"/><circle cx="394.4" cy="477.4" r="1.85"/><circle cx="401.8" cy="477.4" r="1.85"/><circle cx="409.2" cy="477.4" r="1.85"/><circle cx="416.6" cy="477.4" r="1.85"/><circle cx="424" cy="477.4" r="1.85"/><circle cx="431.4" cy="477.4" r="1.85"/><circle cx="438.8" cy="477.4" r="1.85"/><circle cx="446.2" cy="477.4" r="1.85"/><circle cx="453.6" cy="477.4" r="1.85"/><circle cx="461" cy="477.4" r="1.85"/><circle cx="468.4" cy="477.4" r="1.85"/><circle cx="475.8" cy="477.4" r="1.85"/><circle cx="483.2" cy="477.4" r="1.85"/><circle cx="490.6" cy="477.4" r="1.85"/></g>
<path d="M365.9 644.1A277.8 277.8 0 0 1 497.5 644.1L497.5 665.8A256.8 256.8 0 0 0 365.9 665.8z" fill="#22c30a"/>
<g class="hr"><circle cx="372.9" cy="637.1" r="2.55"/><circle cx="380.2" cy="635.6" r="2.55"/><circle cx="387.5" cy="634.4" r="2.55"/><circle cx="394.8" cy="633.3" r="2.55"/><circle cx="402.2" cy="632.4" r="2.55"/><circle cx="409.5" cy="631.8" r="2.55"/><circle cx="416.9" cy="631.3" r="2.55"/><circle cx="424.3" cy="631" r="2.55"/><circle cx="431.7" cy="630.9" r="2.55"/><circle cx="439.1" cy="631" r="2.55"/><circle cx="446.5" cy="631.3" r="2.55"/><circle cx="453.9" cy="631.8" r="2.55"/><circle cx="461.2" cy="632.4" r="2.55"/><circle cx="468.6" cy="633.3" r="2.55"/><circle cx="475.9" cy="634.4" r="2.55"/><circle cx="483.2" cy="635.6" r="2.55"/><circle cx="490.5" cy="637.1" r="2.55"/><circle cx="369.9" cy="670.2" r="2.55"/><circle cx="376.3" cy="668.7" r="2.55"/><circle cx="382.7" cy="667.3" r="2.55"/><circle cx="389.2" cy="666.1" r="2.55"/><circle cx="395.7" cy="665.1" r="2.55"/><circle cx="402.2" cy="664.2" r="2.55"/><circle cx="408.7" cy="663.6" r="2.55"/><circle cx="415.3" cy="663" r="2.55"/><circle cx="421.8" cy="662.7" r="2.55"/><circle cx="428.4" cy="662.5" r="2.55"/><circle cx="435" cy="662.5" r="2.55"/><circle cx="441.6" cy="662.7" r="2.55"/><circle cx="448.1" cy="663" r="2.55"/><circle cx="454.7" cy="663.6" r="2.55"/><circle cx="461.2" cy="664.2" r="2.55"/><circle cx="467.7" cy="665.1" r="2.55"/><circle cx="474.2" cy="666.1" r="2.55"/><circle cx="480.7" cy="667.3" r="2.55"/><circle cx="487.1" cy="668.7" r="2.55"/><circle cx="493.5" cy="670.2" r="2.55"/></g>
<g class="hb"><circle cx="370.1" cy="641.3" r="2.55"/><circle cx="377.2" cy="639.8" r="2.55"/><circle cx="384.4" cy="638.4" r="2.55"/><circle cx="391.6" cy="637.3" r="2.55"/><circle cx="398.9" cy="636.3" r="2.55"/><circle cx="406.2" cy="635.6" r="2.55"/><circle cx="413.4" cy="635" r="2.55"/><circle cx="420.7" cy="634.6" r="2.55"/><circle cx="428" cy="634.4" r="2.55"/><circle cx="435.4" cy="634.4" r="2.55"/><circle cx="442.7" cy="634.6" r="2.55"/><circle cx="450" cy="635" r="2.55"/><circle cx="457.2" cy="635.6" r="2.55"/><circle cx="464.5" cy="636.3" r="2.55"/><circle cx="471.8" cy="637.3" r="2.55"/><circle cx="479" cy="638.4" r="2.55"/><circle cx="486.2" cy="639.8" r="2.55"/><circle cx="493.3" cy="641.3" r="2.55"/><circle cx="372.3" cy="666" r="2.55"/><circle cx="378.8" cy="664.5" r="2.55"/><circle cx="385.3" cy="663.2" r="2.55"/><circle cx="391.9" cy="662.1" r="2.55"/><circle cx="398.5" cy="661.2" r="2.55"/><circle cx="405.1" cy="660.4" r="2.55"/><circle cx="411.7" cy="659.8" r="2.55"/><circle cx="418.4" cy="659.3" r="2.55"/><circle cx="425" cy="659.1" r="2.55"/><circle cx="431.7" cy="659" r="2.55"/><circle cx="438.4" cy="659.1" r="2.55"/><circle cx="445" cy="659.3" r="2.55"/><circle cx="451.7" cy="659.8" r="2.55"/><circle cx="458.3" cy="660.4" r="2.55"/><circle cx="464.9" cy="661.2" r="2.55"/><circle cx="471.5" cy="662.1" r="2.55"/><circle cx="478.1" cy="663.2" r="2.55"/><circle cx="484.6" cy="664.5" r="2.55"/><circle cx="491.1" cy="666" r="2.55"/></g>
<g class="hg"><circle cx="374.4" cy="643.9" r="1.85"/><circle cx="381.5" cy="642.5" r="1.85"/><circle cx="388.6" cy="641.3" r="1.85"/><circle cx="395.7" cy="640.3" r="1.85"/><circle cx="402.9" cy="639.4" r="1.85"/><circle cx="410.1" cy="638.8" r="1.85"/><circle cx="417.3" cy="638.3" r="1.85"/><circle cx="424.5" cy="638" r="1.85"/><circle cx="431.7" cy="637.9" r="1.85"/><circle cx="438.9" cy="638" r="1.85"/><circle cx="446.1" cy="638.3" r="1.85"/><circle cx="453.3" cy="638.8" r="1.85"/><circle cx="460.5" cy="639.4" r="1.85"/><circle cx="467.7" cy="640.3" r="1.85"/><circle cx="474.8" cy="641.3" r="1.85"/><circle cx="481.9" cy="642.5" r="1.85"/><circle cx="489" cy="643.9" r="1.85"/><circle cx="371.6" cy="648.1" r="1.85"/><circle cx="378.6" cy="646.7" r="1.85"/><circle cx="385.6" cy="645.4" r="1.85"/><circle cx="392.6" cy="644.2" r="1.85"/><circle cx="399.7" cy="643.3" r="1.85"/><circle cx="406.8" cy="642.6" r="1.85"/><circle cx="413.9" cy="642" r="1.85"/><circle cx="421" cy="641.6" r="1.85"/><circle cx="428.1" cy="641.5" r="1.85"/><circle cx="435.3" cy="641.5" r="1.85"/><circle cx="442.4" cy="641.6" r="1.85"/><circle cx="449.5" cy="642" r="1.85"/><circle cx="456.6" cy="642.6" r="1.85"/><circle cx="463.7" cy="643.3" r="1.85"/><circle cx="470.8" cy="644.2" r="1.85"/><circle cx="477.8" cy="645.4" r="1.85"/><circle cx="484.8" cy="646.7" r="1.85"/><circle cx="491.8" cy="648.1" r="1.85"/><circle cx="369" cy="652.4" r="1.85"/><circle cx="375.8" cy="650.8" r="1.85"/><circle cx="382.7" cy="649.4" r="1.85"/><circle cx="389.7" cy="648.2" r="1.85"/><circle cx="396.6" cy="647.2" r="1.85"/><circle cx="403.6" cy="646.4" r="1.85"/><circle cx="410.6" cy="645.8" r="1.85"/><circle cx="417.6" cy="645.3" r="1.85"/><circle cx="424.7" cy="645" r="1.85"/><circle cx="431.7" cy="644.9" r="1.85"/><circle cx="438.7" cy="645" r="1.85"/><circle cx="445.8" cy="645.3" r="1.85"/><circle cx="452.8" cy="645.8" r="1.85"/><circle cx="459.8" cy="646.4" r="1.85"/><circle cx="466.8" cy="647.2" r="1.85"/><circle cx="473.7" cy="648.2" r="1.85"/><circle cx="480.7" cy="649.4" r="1.85"/><circle cx="487.6" cy="650.8" r="1.85"/><circle cx="494.4" cy="652.4" r="1.85"/><circle cx="373.2" cy="655" r="1.85"/><circle cx="380" cy="653.5" r="1.85"/><circle cx="386.8" cy="652.3" r="1.85"/><circle cx="393.7" cy="651.2" r="1.85"/><circle cx="400.5" cy="650.3" r="1.85"/><circle cx="407.4" cy="649.6" r="1.85"/><circle cx="414.4" cy="649" r="1.85"/><circle cx="421.3" cy="648.7" r="1.85"/><circle cx="428.2" cy="648.5" r="1.85"/><circle cx="435.2" cy="648.5" r="1.85"/><circle cx="442.1" cy="648.7" r="1.85"/><circle cx="449" cy="649" r="1.85"/><circle cx="456" cy="649.6" r="1.85"/><circle cx="462.9" cy="650.3" r="1.85"/><circle cx="469.7" cy="651.2" r="1.85"/><circle cx="476.6" cy="652.3" r="1.85"/><circle cx="483.4" cy="653.5" r="1.85"/><circle cx="490.2" cy="655" r="1.85"/><circle cx="370.6" cy="659.2" r="1.85"/><circle cx="377.3" cy="657.7" r="1.85"/><circle cx="384" cy="656.3" r="1.85"/><circle cx="390.8" cy="655.2" r="1.85"/><circle cx="397.6" cy="654.2" r="1.85"/><circle cx="404.4" cy="653.4" r="1.85"/><circle cx="411.2" cy="652.8" r="1.85"/><circle cx="418" cy="652.3" r="1.85"/><circle cx="424.9" cy="652.1" r="1.85"/><circle cx="431.7" cy="652" r="1.85"/><circle cx="438.5" cy="652.1" r="1.85"/><circle cx="445.4" cy="652.3" r="1.85"/><circle cx="452.2" cy="652.8" r="1.85"/><circle cx="459" cy="653.4" r="1.85"/><circle cx="465.8" cy="654.2" r="1.85"/><circle cx="472.6" cy="655.2" r="1.85"/><circle cx="479.4" cy="656.3" r="1.85"/><circle cx="486.1" cy="657.7" r="1.85"/><circle cx="492.8" cy="659.2" r="1.85"/><circle cx="368.2" cy="663.4" r="1.85"/><circle cx="374.7" cy="661.8" r="1.85"/><circle cx="381.3" cy="660.4" r="1.85"/><circle cx="388" cy="659.2" r="1.85"/><circle cx="394.7" cy="658.1" r="1.85"/><circle cx="401.4" cy="657.3" r="1.85"/><circle cx="408.1" cy="656.6" r="1.85"/><circle cx="414.8" cy="656" r="1.85"/><circle cx="421.6" cy="655.7" r="1.85"/><circle cx="428.3" cy="655.5" r="1.85"/><circle cx="435.1" cy="655.5" r="1.85"/><circle cx="441.8" cy="655.7" r="1.85"/><circle cx="448.6" cy="656" r="1.85"/><circle cx="455.3" cy="656.6" r="1.85"/><circle cx="462" cy="657.3" r="1.85"/><circle cx="468.7" cy="658.1" r="1.85"/><circle cx="475.4" cy="659.2" r="1.85"/><circle cx="482.1" cy="660.4" r="1.85"/><circle cx="488.7" cy="661.8" r="1.85"/><circle cx="495.2" cy="663.4" r="1.85"/></g>
<path d="M391 669.8Q412 664 424 661T438 656.4T452 661T479 669.8Q435 659 391 669.8z" fill="#e01c1c"/>
<path d="M392 669.4Q435 659.4 478 669.4" stroke="#e01c1c" stroke-width="2.2" fill="none" stroke-dasharray="1.7 1"/>
<path d="M402 664.6Q420 660 438 655T470 664.6" stroke="#dd3030" stroke-width="1.5" fill="none" stroke-dasharray="1.2 1.5" opacity=".85"/>
<path d="M397 665.5l4 -1.6M409 662l4 -1.5M420 659.5l4 -1.5M447 658.5l4 1.2M459 661.5l4 1.6M469 665l3 1.2" stroke="#2f86d8" stroke-width="1.4"/>
<g class="ho"><circle cx="372.9" cy="701.9" r="2.5"/><circle cx="380.2" cy="700.5" r="2.5"/><circle cx="387.5" cy="699.3" r="2.5"/><circle cx="394.8" cy="698.3" r="2.5"/><circle cx="402.1" cy="697.5" r="2.5"/><circle cx="409.5" cy="696.8" r="2.5"/><circle cx="416.9" cy="696.4" r="2.5"/><circle cx="424.3" cy="696.1" r="2.5"/><circle cx="431.7" cy="696" r="2.5"/><circle cx="439.1" cy="696.1" r="2.5"/><circle cx="446.5" cy="696.4" r="2.5"/><circle cx="453.9" cy="696.8" r="2.5"/><circle cx="461.3" cy="697.5" r="2.5"/><circle cx="468.6" cy="698.3" r="2.5"/><circle cx="475.9" cy="699.3" r="2.5"/><circle cx="483.2" cy="700.5" r="2.5"/><circle cx="490.5" cy="701.9" r="2.5"/><circle cx="370" cy="705.9" r="2.5"/><circle cx="377.1" cy="704.4" r="2.5"/><circle cx="384.3" cy="703.2" r="2.5"/><circle cx="391.6" cy="702.1" r="2.5"/><circle cx="398.8" cy="701.2" r="2.5"/><circle cx="406.1" cy="700.4" r="2.5"/><circle cx="413.4" cy="699.9" r="2.5"/><circle cx="420.7" cy="699.5" r="2.5"/><circle cx="428" cy="699.3" r="2.5"/><circle cx="435.4" cy="699.3" r="2.5"/><circle cx="442.7" cy="699.5" r="2.5"/><circle cx="450" cy="699.9" r="2.5"/><circle cx="457.3" cy="700.4" r="2.5"/><circle cx="464.6" cy="701.2" r="2.5"/><circle cx="471.8" cy="702.1" r="2.5"/><circle cx="479.1" cy="703.2" r="2.5"/><circle cx="486.3" cy="704.4" r="2.5"/><circle cx="493.4" cy="705.9" r="2.5"/><circle cx="374.2" cy="708.4" r="2.5"/><circle cx="381.3" cy="707" r="2.5"/><circle cx="388.5" cy="705.9" r="2.5"/><circle cx="395.6" cy="704.9" r="2.5"/><circle cx="402.8" cy="704.1" r="2.5"/><circle cx="410" cy="703.4" r="2.5"/><circle cx="417.2" cy="703" r="2.5"/><circle cx="424.5" cy="702.7" r="2.5"/><circle cx="431.7" cy="702.6" r="2.5"/><circle cx="438.9" cy="702.7" r="2.5"/><circle cx="446.2" cy="703" r="2.5"/><circle cx="453.4" cy="703.4" r="2.5"/><circle cx="460.6" cy="704.1" r="2.5"/><circle cx="467.8" cy="704.9" r="2.5"/><circle cx="474.9" cy="705.9" r="2.5"/><circle cx="482.1" cy="707" r="2.5"/><circle cx="489.2" cy="708.4" r="2.5"/><circle cx="371.4" cy="712.4" r="2.5"/><circle cx="378.4" cy="710.9" r="2.5"/><circle cx="385.4" cy="709.7" r="2.5"/><circle cx="392.5" cy="708.6" r="2.5"/><circle cx="399.6" cy="707.8" r="2.5"/><circle cx="406.7" cy="707" r="2.5"/><circle cx="413.8" cy="706.5" r="2.5"/><circle cx="421" cy="706.2" r="2.5"/><circle cx="428.1" cy="706" r="2.5"/><circle cx="435.3" cy="706" r="2.5"/><circle cx="442.4" cy="706.2" r="2.5"/><circle cx="449.6" cy="706.5" r="2.5"/><circle cx="456.7" cy="707" r="2.5"/><circle cx="463.8" cy="707.8" r="2.5"/><circle cx="470.9" cy="708.6" r="2.5"/><circle cx="478" cy="709.7" r="2.5"/><circle cx="485" cy="710.9" r="2.5"/><circle cx="492" cy="712.4" r="2.5"/><circle cx="368.6" cy="716.4" r="2.5"/><circle cx="375.5" cy="714.9" r="2.5"/><circle cx="382.5" cy="713.6" r="2.5"/><circle cx="389.4" cy="712.4" r="2.5"/><circle cx="396.4" cy="711.5" r="2.5"/><circle cx="403.5" cy="710.7" r="2.5"/><circle cx="410.5" cy="710.1" r="2.5"/><circle cx="417.6" cy="709.6" r="2.5"/><circle cx="424.6" cy="709.4" r="2.5"/><circle cx="431.7" cy="709.3" r="2.5"/><circle cx="438.8" cy="709.4" r="2.5"/><circle cx="445.8" cy="709.6" r="2.5"/><circle cx="452.9" cy="710.1" r="2.5"/><circle cx="459.9" cy="710.7" r="2.5"/><circle cx="467" cy="711.5" r="2.5"/><circle cx="474" cy="712.4" r="2.5"/><circle cx="480.9" cy="713.6" r="2.5"/><circle cx="487.9" cy="714.9" r="2.5"/><circle cx="494.8" cy="716.4" r="2.5"/><circle cx="372.7" cy="718.8" r="2.5"/><circle cx="379.6" cy="717.5" r="2.5"/><circle cx="386.5" cy="716.3" r="2.5"/><circle cx="393.4" cy="715.2" r="2.5"/><circle cx="400.3" cy="714.4" r="2.5"/><circle cx="407.3" cy="713.7" r="2.5"/><circle cx="414.2" cy="713.1" r="2.5"/><circle cx="421.2" cy="712.8" r="2.5"/><circle cx="428.2" cy="712.6" r="2.5"/><circle cx="435.2" cy="712.6" r="2.5"/><circle cx="442.2" cy="712.8" r="2.5"/><circle cx="449.2" cy="713.1" r="2.5"/><circle cx="456.1" cy="713.7" r="2.5"/><circle cx="463.1" cy="714.4" r="2.5"/><circle cx="470" cy="715.2" r="2.5"/><circle cx="476.9" cy="716.3" r="2.5"/><circle cx="483.8" cy="717.5" r="2.5"/><circle cx="490.7" cy="718.8" r="2.5"/></g>
<path d="M374 598L379.9 565.5A46.3 46.3 0 0 1 472.5 565.5L478.4 598H455.8L450 565.5A23.8 23.8 0 0 0 402.4 565.5L396.6 598z" fill="#22c30a"/>
<g fill="#fff" stroke="#e01818" stroke-width="1.25"><circle cx="426.2" cy="513.8" r="2.50"/><circle cx="432.3" cy="514.2" r="2.50"/><circle cx="438.3" cy="515.2" r="2.50"/><circle cx="444.1" cy="517" r="2.50"/><circle cx="449.7" cy="519.5" r="2.50"/><circle cx="455" cy="522.5" r="2.50"/><circle cx="459.8" cy="526.2" r="2.50"/><circle cx="464.2" cy="530.5" r="2.50"/><circle cx="468.1" cy="535.2" r="2.50"/><circle cx="471.4" cy="540.3" r="2.50"/><circle cx="474" cy="545.8" r="2.50"/><circle cx="476" cy="551.6" r="2.50"/><circle cx="477.3" cy="557.5" r="2.50"/><circle cx="477.9" cy="563.6" r="2.50"/><circle cx="420.1" cy="514.2" r="2.50"/><circle cx="414.1" cy="515.2" r="2.50"/><circle cx="408.3" cy="517" r="2.50"/><circle cx="402.7" cy="519.5" r="2.50"/><circle cx="397.4" cy="522.5" r="2.50"/><circle cx="392.6" cy="526.2" r="2.50"/><circle cx="388.2" cy="530.5" r="2.50"/><circle cx="384.3" cy="535.2" r="2.50"/><circle cx="381" cy="540.3" r="2.50"/><circle cx="378.4" cy="545.8" r="2.50"/><circle cx="376.4" cy="551.6" r="2.50"/><circle cx="375.1" cy="557.5" r="2.50"/><circle cx="374.5" cy="563.6" r="2.50"/></g>
<g fill="#fff" stroke="#3a9be6" stroke-width=".95"><circle cx="429" cy="517.6" r="2.40"/><circle cx="434.7" cy="518.2" r="2.40"/><circle cx="440.2" cy="519.6" r="2.40"/><circle cx="445.5" cy="521.5" r="2.40"/><circle cx="450.5" cy="524.1" r="2.40"/><circle cx="455.2" cy="527.3" r="2.40"/><circle cx="459.5" cy="530.9" r="2.40"/><circle cx="463.3" cy="535.1" r="2.40"/><circle cx="466.7" cy="539.7" r="2.40"/><circle cx="469.4" cy="544.6" r="2.40"/><circle cx="471.6" cy="549.9" r="2.40"/><circle cx="473.1" cy="555.3" r="2.40"/><circle cx="474" cy="560.9" r="2.40"/><circle cx="423.4" cy="517.6" r="2.40"/><circle cx="417.7" cy="518.2" r="2.40"/><circle cx="412.2" cy="519.6" r="2.40"/><circle cx="406.9" cy="521.5" r="2.40"/><circle cx="401.9" cy="524.1" r="2.40"/><circle cx="397.2" cy="527.3" r="2.40"/><circle cx="392.9" cy="530.9" r="2.40"/><circle cx="389.1" cy="535.1" r="2.40"/><circle cx="385.7" cy="539.7" r="2.40"/><circle cx="383" cy="544.6" r="2.40"/><circle cx="380.8" cy="549.9" r="2.40"/><circle cx="379.3" cy="555.3" r="2.40"/><circle cx="378.4" cy="560.9" r="2.40"/><circle cx="377.9" cy="567.3" r="2.50"/><circle cx="474.5" cy="567.3" r="2.50"/><circle cx="376.5" cy="574.6" r="2.50"/><circle cx="475.9" cy="574.6" r="2.50"/><circle cx="375.1" cy="581.9" r="2.50"/><circle cx="477.3" cy="581.9" r="2.50"/><circle cx="373.7" cy="589.2" r="2.50"/><circle cx="478.7" cy="589.2" r="2.50"/><circle cx="448" cy="562.1" r="2.00"/><circle cx="448.3" cy="564.7" r="2.00"/><circle cx="404.4" cy="562.1" r="2.00"/><circle cx="404.1" cy="564.7" r="2.00"/><circle cx="402.7" cy="571" r="2.50"/><circle cx="449.7" cy="571" r="2.50"/><circle cx="400.9" cy="578.3" r="2.50"/><circle cx="451.5" cy="578.3" r="2.50"/><circle cx="399" cy="585.6" r="2.50"/><circle cx="453.4" cy="585.6" r="2.50"/><circle cx="397.2" cy="592.9" r="2.50"/><circle cx="455.2" cy="592.9" r="2.50"/></g>
<g fill="#fff" stroke="#d9536a" stroke-width=".8"><circle cx="373.5" cy="571" r="2.50"/><circle cx="478.9" cy="571" r="2.50"/><circle cx="372.2" cy="578.3" r="2.50"/><circle cx="480.2" cy="578.3" r="2.50"/><circle cx="370.9" cy="585.6" r="2.50"/><circle cx="481.5" cy="585.6" r="2.50"/><circle cx="369.6" cy="592.9" r="2.50"/><circle cx="482.8" cy="592.9" r="2.50"/><circle cx="444.2" cy="561.6" r="2.00"/><circle cx="444.5" cy="563.7" r="2.00"/><circle cx="408.2" cy="561.6" r="2.00"/><circle cx="407.9" cy="563.7" r="2.00"/><circle cx="407.3" cy="567.3" r="2.50"/><circle cx="445.1" cy="567.3" r="2.50"/><circle cx="405.4" cy="574.6" r="2.50"/><circle cx="447" cy="574.6" r="2.50"/><circle cx="403.5" cy="581.9" r="2.50"/><circle cx="448.9" cy="581.9" r="2.50"/><circle cx="401.6" cy="589.2" r="2.50"/><circle cx="450.8" cy="589.2" r="2.50"/></g>
<g fill="#fff"><circle cx="426.2" cy="521.2" r="1.52"/><circle cx="431.4" cy="521.5" r="1.52"/><circle cx="436.6" cy="522.4" r="1.52"/><circle cx="441.6" cy="523.9" r="1.52"/><circle cx="446.3" cy="526" r="1.52"/><circle cx="450.8" cy="528.7" r="1.52"/><circle cx="455" cy="531.8" r="1.52"/><circle cx="458.8" cy="535.5" r="1.52"/><circle cx="462.1" cy="539.5" r="1.52"/><circle cx="464.9" cy="543.9" r="1.52"/><circle cx="467.2" cy="548.6" r="1.52"/><circle cx="468.9" cy="553.6" r="1.52"/><circle cx="470" cy="558.7" r="1.52"/><circle cx="470.5" cy="563.9" r="1.52"/><circle cx="421" cy="521.5" r="1.52"/><circle cx="415.8" cy="522.4" r="1.52"/><circle cx="410.8" cy="523.9" r="1.52"/><circle cx="406.1" cy="526" r="1.52"/><circle cx="401.6" cy="528.7" r="1.52"/><circle cx="397.4" cy="531.8" r="1.52"/><circle cx="393.6" cy="535.5" r="1.52"/><circle cx="390.3" cy="539.5" r="1.52"/><circle cx="387.5" cy="543.9" r="1.52"/><circle cx="385.2" cy="548.6" r="1.52"/><circle cx="383.5" cy="553.6" r="1.52"/><circle cx="382.4" cy="558.7" r="1.52"/><circle cx="381.9" cy="563.9" r="1.52"/><circle cx="380.8" cy="571" r="1.85"/><circle cx="471.6" cy="571" r="1.85"/><circle cx="379.4" cy="578.3" r="1.85"/><circle cx="473" cy="578.3" r="1.85"/><circle cx="377.9" cy="585.6" r="1.85"/><circle cx="474.5" cy="585.6" r="1.85"/><circle cx="376.5" cy="592.9" r="1.85"/><circle cx="475.9" cy="592.9" r="1.85"/><circle cx="428.6" cy="525" r="1.39"/><circle cx="433.3" cy="525.5" r="1.39"/><circle cx="438" cy="526.7" r="1.39"/><circle cx="442.5" cy="528.3" r="1.39"/><circle cx="446.8" cy="530.5" r="1.39"/><circle cx="450.7" cy="533.2" r="1.39"/><circle cx="454.4" cy="536.3" r="1.39"/><circle cx="457.6" cy="539.8" r="1.39"/><circle cx="460.4" cy="543.7" r="1.39"/><circle cx="462.8" cy="547.8" r="1.39"/><circle cx="464.6" cy="552.3" r="1.39"/><circle cx="465.9" cy="556.9" r="1.39"/><circle cx="466.6" cy="561.6" r="1.39"/><circle cx="423.8" cy="525" r="1.39"/><circle cx="419.1" cy="525.5" r="1.39"/><circle cx="414.4" cy="526.7" r="1.39"/><circle cx="409.9" cy="528.3" r="1.39"/><circle cx="405.6" cy="530.5" r="1.39"/><circle cx="401.7" cy="533.2" r="1.39"/><circle cx="398" cy="536.3" r="1.39"/><circle cx="394.8" cy="539.8" r="1.39"/><circle cx="392" cy="543.7" r="1.39"/><circle cx="389.6" cy="547.8" r="1.39"/><circle cx="387.8" cy="552.3" r="1.39"/><circle cx="386.5" cy="556.9" r="1.39"/><circle cx="385.8" cy="561.6" r="1.39"/><circle cx="385.2" cy="567.3" r="1.85"/><circle cx="467.2" cy="567.3" r="1.85"/><circle cx="383.7" cy="574.6" r="1.85"/><circle cx="468.7" cy="574.6" r="1.85"/><circle cx="382.2" cy="581.9" r="1.85"/><circle cx="470.2" cy="581.9" r="1.85"/><circle cx="380.7" cy="589.2" r="1.85"/><circle cx="471.7" cy="589.2" r="1.85"/><circle cx="426.2" cy="528.6" r="1.26"/><circle cx="430.5" cy="528.9" r="1.26"/><circle cx="434.8" cy="529.6" r="1.26"/><circle cx="439" cy="530.9" r="1.26"/><circle cx="443" cy="532.6" r="1.26"/><circle cx="446.7" cy="534.8" r="1.26"/><circle cx="450.2" cy="537.5" r="1.26"/><circle cx="453.3" cy="540.5" r="1.26"/><circle cx="456.1" cy="543.9" r="1.26"/><circle cx="458.4" cy="547.5" r="1.26"/><circle cx="460.3" cy="551.4" r="1.26"/><circle cx="461.7" cy="555.6" r="1.26"/><circle cx="462.7" cy="559.8" r="1.26"/><circle cx="463.1" cy="564.1" r="1.26"/><circle cx="421.9" cy="528.9" r="1.26"/><circle cx="417.6" cy="529.6" r="1.26"/><circle cx="413.4" cy="530.9" r="1.26"/><circle cx="409.4" cy="532.6" r="1.26"/><circle cx="405.7" cy="534.8" r="1.26"/><circle cx="402.2" cy="537.5" r="1.26"/><circle cx="399.1" cy="540.5" r="1.26"/><circle cx="396.3" cy="543.9" r="1.26"/><circle cx="394" cy="547.5" r="1.26"/><circle cx="392.1" cy="551.4" r="1.26"/><circle cx="390.7" cy="555.6" r="1.26"/><circle cx="389.7" cy="559.8" r="1.26"/><circle cx="389.3" cy="564.1" r="1.26"/><circle cx="388.1" cy="571" r="1.85"/><circle cx="464.3" cy="571" r="1.85"/><circle cx="386.5" cy="578.3" r="1.85"/><circle cx="465.9" cy="578.3" r="1.85"/><circle cx="385" cy="585.6" r="1.85"/><circle cx="467.4" cy="585.6" r="1.85"/><circle cx="383.4" cy="592.9" r="1.85"/><circle cx="469" cy="592.9" r="1.85"/><circle cx="428.2" cy="532.4" r="1.14"/><circle cx="432" cy="532.8" r="1.14"/><circle cx="435.9" cy="533.7" r="1.14"/><circle cx="439.5" cy="535.1" r="1.14"/><circle cx="443" cy="536.9" r="1.14"/><circle cx="446.3" cy="539" r="1.14"/><circle cx="449.2" cy="541.6" r="1.14"/><circle cx="451.9" cy="544.5" r="1.14"/><circle cx="454.2" cy="547.6" r="1.14"/><circle cx="456.1" cy="551.1" r="1.14"/><circle cx="457.6" cy="554.7" r="1.14"/><circle cx="458.6" cy="558.5" r="1.14"/><circle cx="459.2" cy="562.3" r="1.14"/><circle cx="424.2" cy="532.4" r="1.14"/><circle cx="420.4" cy="532.8" r="1.14"/><circle cx="416.5" cy="533.7" r="1.14"/><circle cx="412.9" cy="535.1" r="1.14"/><circle cx="409.4" cy="536.9" r="1.14"/><circle cx="406.1" cy="539" r="1.14"/><circle cx="403.2" cy="541.6" r="1.14"/><circle cx="400.5" cy="544.5" r="1.14"/><circle cx="398.2" cy="547.6" r="1.14"/><circle cx="396.3" cy="551.1" r="1.14"/><circle cx="394.8" cy="554.7" r="1.14"/><circle cx="393.8" cy="558.5" r="1.14"/><circle cx="393.2" cy="562.3" r="1.14"/><circle cx="392.6" cy="567.3" r="1.85"/><circle cx="459.8" cy="567.3" r="1.85"/><circle cx="390.9" cy="574.6" r="1.85"/><circle cx="461.5" cy="574.6" r="1.85"/><circle cx="389.3" cy="581.9" r="1.85"/><circle cx="463.1" cy="581.9" r="1.85"/><circle cx="387.7" cy="589.2" r="1.85"/><circle cx="464.7" cy="589.2" r="1.85"/><circle cx="426.2" cy="536" r="1.01"/><circle cx="429.7" cy="536.2" r="1.01"/><circle cx="433.1" cy="536.8" r="1.01"/><circle cx="436.4" cy="537.8" r="1.01"/><circle cx="439.6" cy="539.2" r="1.01"/><circle cx="442.6" cy="541" r="1.01"/><circle cx="445.4" cy="543.1" r="1.01"/><circle cx="447.9" cy="545.5" r="1.01"/><circle cx="450.1" cy="548.2" r="1.01"/><circle cx="452" cy="551.1" r="1.01"/><circle cx="453.5" cy="554.3" r="1.01"/><circle cx="454.6" cy="557.6" r="1.01"/><circle cx="455.3" cy="561" r="1.01"/><circle cx="455.7" cy="564.4" r="1.01"/><circle cx="422.7" cy="536.2" r="1.01"/><circle cx="419.3" cy="536.8" r="1.01"/><circle cx="416" cy="537.8" r="1.01"/><circle cx="412.8" cy="539.2" r="1.01"/><circle cx="409.8" cy="541" r="1.01"/><circle cx="407" cy="543.1" r="1.01"/><circle cx="404.5" cy="545.5" r="1.01"/><circle cx="402.3" cy="548.2" r="1.01"/><circle cx="400.4" cy="551.1" r="1.01"/><circle cx="398.9" cy="554.3" r="1.01"/><circle cx="397.8" cy="557.6" r="1.01"/><circle cx="397.1" cy="561" r="1.01"/><circle cx="396.7" cy="564.4" r="1.01"/><circle cx="395.4" cy="571" r="1.85"/><circle cx="457" cy="571" r="1.85"/><circle cx="393.7" cy="578.3" r="1.85"/><circle cx="458.7" cy="578.3" r="1.85"/><circle cx="392" cy="585.6" r="1.85"/><circle cx="460.4" cy="585.6" r="1.85"/><circle cx="390.3" cy="592.9" r="1.85"/><circle cx="462.1" cy="592.9" r="1.85"/><circle cx="427.7" cy="539.7" r="0.88"/><circle cx="430.7" cy="540.1" r="0.88"/><circle cx="433.7" cy="540.8" r="0.88"/><circle cx="436.6" cy="541.9" r="0.88"/><circle cx="439.3" cy="543.3" r="0.88"/><circle cx="441.8" cy="544.9" r="0.88"/><circle cx="444.1" cy="546.9" r="0.88"/><circle cx="446.2" cy="549.2" r="0.88"/><circle cx="448" cy="551.6" r="0.88"/><circle cx="449.4" cy="554.3" r="0.88"/><circle cx="450.6" cy="557.1" r="0.88"/><circle cx="451.4" cy="560" r="0.88"/><circle cx="451.9" cy="563" r="0.88"/><circle cx="424.7" cy="539.7" r="0.88"/><circle cx="421.7" cy="540.1" r="0.88"/><circle cx="418.7" cy="540.8" r="0.88"/><circle cx="415.8" cy="541.9" r="0.88"/><circle cx="413.1" cy="543.3" r="0.88"/><circle cx="410.6" cy="544.9" r="0.88"/><circle cx="408.3" cy="546.9" r="0.88"/><circle cx="406.2" cy="549.2" r="0.88"/><circle cx="404.4" cy="551.6" r="0.88"/><circle cx="403" cy="554.3" r="0.88"/><circle cx="401.8" cy="557.1" r="0.88"/><circle cx="401" cy="560" r="0.88"/><circle cx="400.5" cy="563" r="0.88"/><circle cx="400" cy="567.3" r="1.85"/><circle cx="452.4" cy="567.3" r="1.85"/><circle cx="398.2" cy="574.6" r="1.85"/><circle cx="454.2" cy="574.6" r="1.85"/><circle cx="396.4" cy="581.9" r="1.85"/><circle cx="456" cy="581.9" r="1.85"/><circle cx="394.6" cy="589.2" r="1.85"/><circle cx="457.8" cy="589.2" r="1.85"/></g>
<g fill="none" stroke="#e01818" stroke-width="1"><circle cx="426.2" cy="543.4" r="1.43"/><circle cx="428.8" cy="543.6" r="1.43"/><circle cx="431.4" cy="544" r="1.43"/><circle cx="433.9" cy="544.8" r="1.43"/><circle cx="436.2" cy="545.8" r="1.43"/><circle cx="438.5" cy="547.1" r="1.43"/><circle cx="440.6" cy="548.7" r="1.43"/><circle cx="442.4" cy="550.5" r="1.43"/><circle cx="444.1" cy="552.5" r="1.43"/><circle cx="445.5" cy="554.7" r="1.43"/><circle cx="446.6" cy="557.1" r="1.43"/><circle cx="447.5" cy="559.5" r="1.43"/><circle cx="423.6" cy="543.6" r="1.43"/><circle cx="421" cy="544" r="1.43"/><circle cx="418.5" cy="544.8" r="1.43"/><circle cx="416.2" cy="545.8" r="1.43"/><circle cx="413.9" cy="547.1" r="1.43"/><circle cx="411.8" cy="548.7" r="1.43"/><circle cx="410" cy="550.5" r="1.43"/><circle cx="408.3" cy="552.5" r="1.43"/><circle cx="406.9" cy="554.7" r="1.43"/><circle cx="405.8" cy="557.1" r="1.43"/><circle cx="404.9" cy="559.5" r="1.43"/><circle cx="427.3" cy="547.1" r="1.30"/><circle cx="429.4" cy="547.4" r="1.30"/><circle cx="431.5" cy="547.9" r="1.30"/><circle cx="433.6" cy="548.6" r="1.30"/><circle cx="435.5" cy="549.6" r="1.30"/><circle cx="437.3" cy="550.8" r="1.30"/><circle cx="439" cy="552.3" r="1.30"/><circle cx="440.4" cy="553.8" r="1.30"/><circle cx="441.7" cy="555.6" r="1.30"/><circle cx="442.8" cy="557.5" r="1.30"/><circle cx="443.6" cy="559.5" r="1.30"/><circle cx="425.1" cy="547.1" r="1.30"/><circle cx="423" cy="547.4" r="1.30"/><circle cx="420.9" cy="547.9" r="1.30"/><circle cx="418.8" cy="548.6" r="1.30"/><circle cx="416.9" cy="549.6" r="1.30"/><circle cx="415.1" cy="550.8" r="1.30"/><circle cx="413.4" cy="552.3" r="1.30"/><circle cx="412" cy="553.8" r="1.30"/><circle cx="410.7" cy="555.6" r="1.30"/><circle cx="409.6" cy="557.5" r="1.30"/><circle cx="408.8" cy="559.5" r="1.30"/><circle cx="411.1" cy="559.6" r="1.20"/><circle cx="411.8" cy="558.1" r="1.20"/><circle cx="412.7" cy="556.6" r="1.20"/><circle cx="413.7" cy="555.2" r="1.20"/><circle cx="414.9" cy="553.9" r="1.20"/><circle cx="416.2" cy="552.8" r="1.20"/><circle cx="417.6" cy="551.8" r="1.20"/><circle cx="419.1" cy="551" r="1.20"/><circle cx="420.6" cy="550.3" r="1.20"/><circle cx="422.3" cy="549.8" r="1.20"/><circle cx="424" cy="549.5" r="1.20"/><circle cx="425.7" cy="549.3" r="1.20"/><circle cx="427.4" cy="549.4" r="1.20"/><circle cx="429.1" cy="549.6" r="1.20"/><circle cx="430.8" cy="550" r="1.20"/><circle cx="432.4" cy="550.6" r="1.20"/><circle cx="433.9" cy="551.3" r="1.20"/><circle cx="435.4" cy="552.2" r="1.20"/><circle cx="436.8" cy="553.2" r="1.20"/><circle cx="438" cy="554.4" r="1.20"/><circle cx="439.1" cy="555.7" r="1.20"/><circle cx="440.1" cy="557.2" r="1.20"/><circle cx="440.9" cy="558.7" r="1.20"/></g>
<g font-family='"Liberation Sans", "DejaVu Sans", sans-serif' fill="#151520">
<text x="402.3" y="445.6" font-size="20px" textLength="48.6" lengthAdjust="spacingAndGlyphs">initial</text>
<text x="390.5" y="502.8" font-size="20px" textLength="72.4" lengthAdjust="spacingAndGlyphs">strained</text>
<text x="384.4" y="618.6" font-size="20px" textLength="95.4" lengthAdjust="spacingAndGlyphs">unstrained</text>
</g>
<text x="400.6" y="703.4" font-family='"Liberation Sans", Arial, sans-serif' font-weight="bold" font-size="17px" fill="#000">Ge core</text>
<rect x="20.75" y="427.05" width="490.05" height="304.2" fill="none" stroke="#000" stroke-width="2.6"/>
<text x="21" y="412" font-family='"Liberation Sans", Arial, sans-serif' font-size="42px">c</text>
</g>
</svg></body></html>
